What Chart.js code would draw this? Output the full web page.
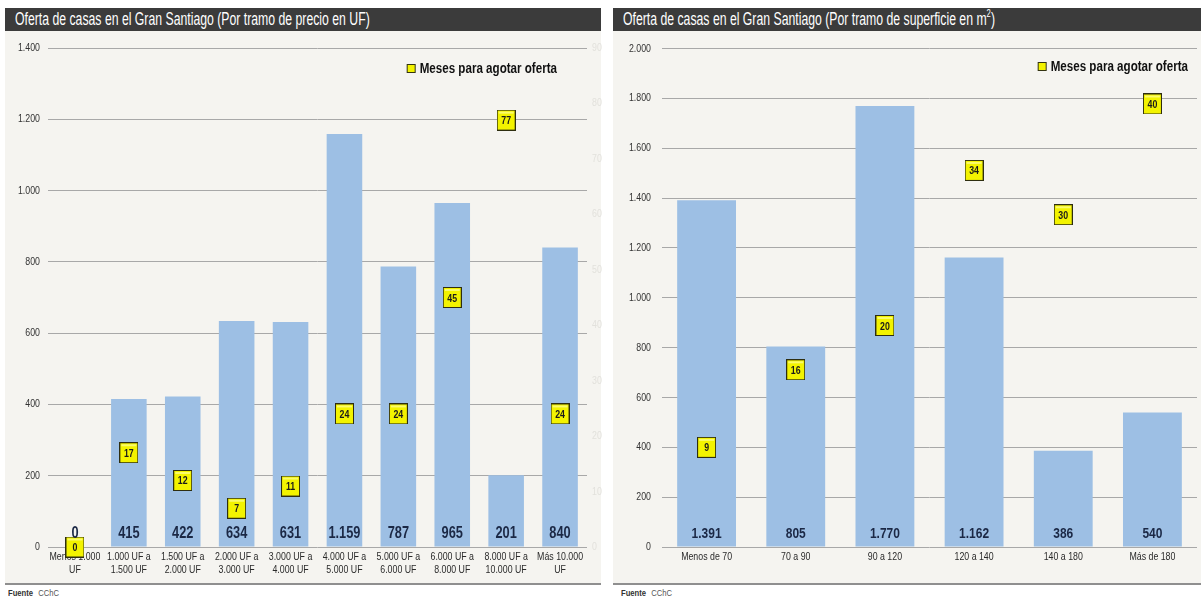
<!DOCTYPE html>
<html>
<head>
<meta charset="utf-8">
<script src="https://cdn.jsdelivr.net/npm/chart.js@4.4.1/dist/chart.umd.min.js"></script>
<style>
  html, body { margin: 0; padding: 0; background: #ffffff; overflow: hidden; }
  body { width: 1201px; height: 598px; position: relative; overflow: hidden;
         font-family: 'Liberation Sans', Arial, sans-serif; }
  .panel { position: absolute; top: 8px; background: #f5f4f0; border-bottom: 2px solid #8f8f8f; }
  .title { position: absolute; left: 0; top: 0; right: 0; height: 23px; background: #3b3b3b; color: #ffffff;
           font-size: 17.5px; line-height: 23px; padding-left: 10px; white-space: nowrap; overflow: hidden; }
  .title span { display: inline-block; transform: scaleX(0.70); transform-origin: 0 50%; }
  .title sup { font-size: 11px; line-height: 0; position: relative; top: -1px; }
  canvas.c { position: absolute; top: 31px; }
  .foot { position: absolute; top: 588px; font-size: 9px; color: #555; }
  .foot span { display: inline-block; transform: scaleX(0.85); transform-origin: 0 50%; }
  .foot b { color: #333; margin-right: 6px; }
</style>
</head>
<body>
<div class="panel" style="left:5px;width:596px;height:575px;">
  <div class="title"><span>Oferta de casas en el Gran Santiago (Por tramo de precio en UF)</span></div>
</div>
<div class="panel" style="left:613px;width:588px;height:575px;">
  <div class="title"><span>Oferta de casas en el Gran Santiago (Por tramo de superficie en m<sup>2</sup>)</span></div>
</div>
<canvas id="c1" class="c" width="598" height="554" style="left:5px;width:598px;height:554px;"></canvas>
<canvas id="c2" class="c" width="595" height="554" style="left:613px;width:595px;height:554px;"></canvas>
<div class="foot" style="left:8px;"><span><b>Fuente</b>CChC</span></div>
<div class="foot" style="left:621px;"><span><b>Fuente</b>CChC</span></div>
<script>
// ---- Data: chart 1 (price ranges) ----
const precioCategorias = [
  ["Menos 1.000", "UF"], ["1.000 UF a", "1.500 UF"], ["1.500 UF a", "2.000 UF"],
  ["2.000 UF a", "3.000 UF"], ["3.000 UF a", "4.000 UF"], ["4.000 UF a", "5.000 UF"],
  ["5.000 UF a", "6.000 UF"], ["6.000 UF a", "8.000 UF"], ["8.000 UF a", "10.000 UF"],
  ["Más 10.000", "UF"]
];
const precioOferta = [0, 415, 422, 634, 631, 1159, 787, 965, 201, 840];
const precioMeses = [0, 17, 12, 7, 11, 24, 24, 45, 77, 24];

// ---- Data: chart 2 (surface ranges) ----
const superficieCategorias = ["Menos de 70", "70 a 90", "90 a 120", "120 a 140", "140 a 180", "Más de 180"];
const superficieOferta = [1391, 805, 1770, 1162, 386, 540];
const superficieMeses = [9, 16, 20, 34, 30, 40];

const leyendaMeses = "Meses para agotar oferta";

const FONT = "'Liberation Sans', Arial, sans-serif";
const BAR_COLOR = "#9dbfe4";
const GRID = "#a8a8a8";
const NARROW = 0.8;

function fmt(n) { return String(n).replace(/\B(?=(\d{3})+(?!\d))/g, "."); }

// Render canvas text horizontally condensed (narrow typeface look)
function condense(canvas, sx) {
  const ctx = canvas.getContext("2d");
  const f = ctx.fillText.bind(ctx);
  const m = ctx.measureText.bind(ctx);
  ctx.fillText = function (t, x, y, mw) {
    ctx.save();
    ctx.translate(x, y);
    ctx.scale(sx, 1);
    if (mw === undefined) f(t, 0, 0); else f(t, 0, 0, mw / sx);
    ctx.restore();
  };
  ctx.measureText = function (t) {
    const r = m(t);
    return { width: r.width * sx,
             actualBoundingBoxAscent: r.actualBoundingBoxAscent,
             actualBoundingBoxDescent: r.actualBoundingBoxDescent,
             actualBoundingBoxLeft: r.actualBoundingBoxLeft * sx,
             actualBoundingBoxRight: r.actualBoundingBoxRight * sx };
  };
}

function makeBox(w, h) {
  const c = document.createElement("canvas");
  c.width = w; c.height = h;
  const g = c.getContext("2d");
  g.fillStyle = "#2e2e10";
  g.fillRect(0, 0, w, h);
  g.fillStyle = "#f3f300";
  g.fillRect(1, 1, w - 2, h - 2);
  g.fillStyle = "#fbfb6a";
  g.fillRect(2, 2, w - 4, 2);
  return c;
}
const markerBox = makeBox(19, 21);

const labelsPlugin = {
  id: "valueLabels",
  afterDatasetsDraw(chart, args, opts) {
    const ctx = chart.ctx;
    const yScale = chart.scales.y;
    const base = yScale.getPixelForValue(0);
    ctx.save();
    ctx.textAlign = "center";
    ctx.textBaseline = "alphabetic";
    const barMeta = chart.getDatasetMeta(0);
    ctx.font = "bold " + opts.barFont + "px " + FONT;
    ctx.fillStyle = "#1b2845";
    barMeta.data.forEach((el, i) => {
      ctx.fillText(fmt(chart.data.datasets[0].data[i]), el.x, base - opts.barOffset);
    });
    const lineMeta = chart.getDatasetMeta(1);
    ctx.font = "bold 11px " + FONT;
    ctx.fillStyle = "#1a1a1a";
    ctx.textBaseline = "middle";
    lineMeta.data.forEach((el, i) => {
      ctx.fillText(String(chart.data.datasets[1].data[i]), el.x, el.y + 1);
    });
    const ca = chart.chartArea;
    ctx.font = "bold " + opts.legendFont + "px " + FONT;
    ctx.textAlign = "right";
    ctx.fillStyle = "#111111";
    const tx = ca.right - opts.legendRight;
    const ty = opts.legendY;
    ctx.fillText(chart.data.datasets[1].label, tx, ty);
    const tw = ctx.measureText(chart.data.datasets[1].label).width;
    const bx = tx - tw - 13;
    ctx.fillStyle = "#333311";
    ctx.fillRect(bx, ty - 5, 9, 9);
    ctx.fillStyle = "#f3f300";
    ctx.fillRect(bx + 1, ty - 4, 7, 7);
    ctx.restore();
  }
};

function buildChart(id, cats, oferta, meses, cfg) {
  const canvas = document.getElementById(id);
  condense(canvas, NARROW);
  return new Chart(canvas, {
    type: "bar",
    data: {
      labels: cats,
      datasets: [
        { type: "bar", label: "Oferta", data: oferta, backgroundColor: BAR_COLOR, borderWidth: 0,
          barPercentage: 0.66, categoryPercentage: 1.0, yAxisID: "y", order: 2 },
        { type: "line", label: leyendaMeses, data: meses, yAxisID: "y1", showLine: false,
          pointStyle: markerBox, pointRadius: 10, pointHoverRadius: 10, clip: false, order: 1 }
      ]
    },
    options: {
      responsive: false, animation: false,
      events: [],
      layout: { padding: { top: 17, right: 0, left: 0, bottom: 0 } },
      plugins: {
        legend: { display: false }, tooltip: { enabled: false }, title: { display: false },
        valueLabels: cfg.labels
      },
      scales: {
        x: {
          grid: { display: false, drawTicks: false },
          border: { display: false },
          ticks: { color: "#2a2a2a", font: { family: FONT, size: 11 }, padding: 3, maxRotation: 0, autoSkip: false },
          afterFit(s) { s.height = 38; s.paddingLeft = 0; s.paddingRight = 0; }
        },
        y: {
          position: "left", min: 0, max: cfg.yMax,
          ticks: { stepSize: 200, color: "#333333", font: { family: FONT, size: 11 }, padding: cfg.yPad,
                   callback: v => fmt(v) },
          grid: { color: GRID, lineWidth: 1, drawTicks: false },
          border: { display: false },
          afterFit(s) { s.width = cfg.yWidth; }
        },
        y1: {
          position: "right", min: 0, max: cfg.y1Max,
          ticks: { display: cfg.y1Labels, stepSize: 10, color: "#e2e1dc", font: { family: FONT, size: 11 }, padding: 5 },
          grid: { display: false, drawTicks: false },
          border: { display: false },
          afterFit(s) { s.width = cfg.y1Width; }
        }
      }
    },
    plugins: [labelsPlugin]
  });
}

buildChart("c1", precioCategorias, precioOferta, precioMeses, {
  yMax: 1400, y1Max: 90, y1Labels: true, y1Width: 16, yWidth: 43, yPad: 8,
  labels: { barFont: 16, barOffset: 9, legendFont: 14.5, legendRight: 30, legendY: 38 }
});
buildChart("c2", superficieCategorias, superficieOferta, superficieMeses, {
  yMax: 2000, y1Max: 45, y1Labels: false, y1Width: 4, yWidth: 49, yPad: 11,
  labels: { barFont: 15, barOffset: 9, legendFont: 14.5, legendRight: 9, legendY: 36 }
});
</script>
</body>
</html>
